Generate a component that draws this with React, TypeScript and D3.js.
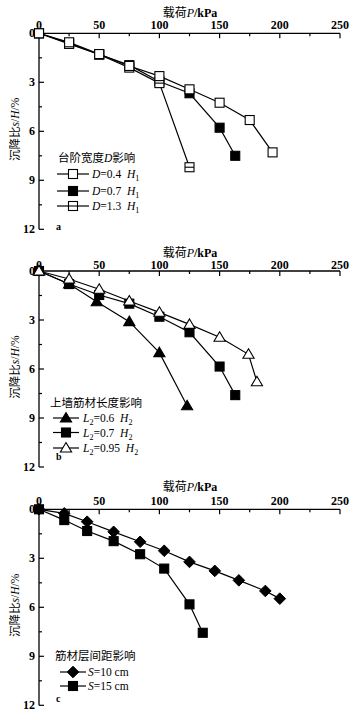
import React from "react";
import * as d3 from "d3";

// ---------- data ----------
const xTicks = [0, 50, 100, 150, 200, 250];
const xMinor = [25, 75, 125, 175, 225];
const yTicks = [0, 3, 6, 9, 12];
const yMinor = [1.5, 4.5, 7.5, 10.5];

// panel a
const loadA04 = [0, 25, 50, 75, 100, 125, 150, 175, 194];
const settleA04 = [0, 0.55, 1.27, 2.0, 2.62, 3.43, 4.25, 5.31, 7.29];
const loadA07 = [0, 25, 50, 75, 100, 125, 150, 163];
const settleA07 = [0, 0.6, 1.3, 1.95, 2.95, 3.67, 5.78, 7.5];
const loadA13 = [0, 25, 50, 75, 100, 125];
const settleA13 = [0, 0.65, 1.3, 2.1, 3.05, 8.2];

// panel b
const loadB06 = [0, 25, 48, 75, 100, 123];
const settleB06 = [0, 0.8, 1.88, 3.1, 5.0, 8.25];
const loadB07 = [0, 25, 50, 75, 100, 125, 150, 163];
const settleB07 = [0, 0.8, 1.47, 2.0, 2.8, 3.75, 5.85, 7.6];
const loadB095 = [0, 25, 50, 75, 100, 125, 150, 174, 181];
const settleB095 = [0, 0.49, 1.12, 1.84, 2.53, 3.27, 4.06, 5.1, 6.78];

// panel c
const loadC10 = [0, 21, 40, 62, 84, 104, 125, 146, 166, 188, 200];
const settleC10 = [0, 0.25, 0.76, 1.38, 1.99, 2.54, 3.22, 3.77, 4.35, 5.0, 5.47];
const loadC15 = [0, 21, 40, 62, 84, 104, 125, 136];
const settleC15 = [0, 0.66, 1.33, 1.95, 2.75, 3.63, 5.82, 7.56];

const titleA = "台阶宽度D影响";
const titleB = "上墙筋材长度影响";
const titleC = "筋材层间距影响";

type Seg = { t: string; i?: boolean; sub?: boolean };
type Series = { x: number[]; y: number[]; marker: string; label: Seg[] };

const panelA: Series[] = [
  { x: loadA07, y: settleA07, marker: "sqFill", label: [{ t: "D", i: true }, { t: "=0.7  " }, { t: "H", i: true }, { t: "1", sub: true }] },
  { x: loadA13, y: settleA13, marker: "sqHalf", label: [{ t: "D", i: true }, { t: "=1.3  " }, { t: "H", i: true }, { t: "1", sub: true }] },
  { x: loadA04, y: settleA04, marker: "sqOpen", label: [{ t: "D", i: true }, { t: "=0.4  " }, { t: "H", i: true }, { t: "1", sub: true }] },
];
const legendOrderA = [2, 0, 1];

const panelB: Series[] = [
  { x: loadB06, y: settleB06, marker: "triFill", label: [{ t: "L", i: true }, { t: "2", sub: true }, { t: "=0.6  " }, { t: "H", i: true }, { t: "2", sub: true }] },
  { x: loadB07, y: settleB07, marker: "sqFill", label: [{ t: "L", i: true }, { t: "2", sub: true }, { t: "=0.7  " }, { t: "H", i: true }, { t: "2", sub: true }] },
  { x: loadB095, y: settleB095, marker: "triOpen", label: [{ t: "L", i: true }, { t: "2", sub: true }, { t: "=0.95  " }, { t: "H", i: true }, { t: "2", sub: true }] },
];
const legendOrderB = [0, 1, 2];

const panelC: Series[] = [
  { x: loadC15, y: settleC15, marker: "sqFill", label: [{ t: "S", i: true }, { t: "=15 cm" }] },
  { x: loadC10, y: settleC10, marker: "diamond", label: [{ t: "S", i: true }, { t: "=10 cm" }] },
];
const legendOrderC = [1, 0];

const SERIF = "'Liberation Serif', 'DejaVu Serif', serif";
const CJK = "'Noto Sans CJK SC', sans-serif";

function Marker({ type, cx, cy }: { type: string; cx: number; cy: number }) {
  const s = 9;
  const h = s / 2;
  if (type === "sqOpen" || type === "sqFill" || type === "sqHalf") {
    return (
      <g>
        <rect x={cx - h} y={cy - h} width={s} height={s} fill={type === "sqFill" ? "#000" : "#fff"} stroke="#000" strokeWidth={1.1} />
        {type === "sqHalf" && <line x1={cx - h} x2={cx + h} y1={cy} y2={cy} stroke="#000" strokeWidth={1.1} />}
      </g>
    );
  }
  if (type === "triFill" || type === "triOpen") {
    const w = 5.6;
    const pts = `${cx},${cy - 5.5} ${cx + w},${cy + 4} ${cx - w},${cy + 4}`;
    return <polygon points={pts} fill={type === "triFill" ? "#000" : "#fff"} stroke="#000" strokeWidth={1.1} />;
  }
  const d = 5.8;
  const pts = `${cx},${cy - d} ${cx + d},${cy} ${cx},${cy + d} ${cx - d},${cy}`;
  return <polygon points={pts} fill="#000" stroke="#000" strokeWidth={1} />;
}

function SegText({ segs, x, y, size }: { segs: Seg[]; x: number; y: number; size: number }) {
  const out: any[] = [];
  let subbed = false;
  segs.forEach((s, k) => {
    if (s.sub) {
      out.push(<tspan key={k} fontSize={size * 0.7} dy={3}>{s.t}</tspan>);
      subbed = true;
    } else {
      out.push(
        <tspan key={k} fontStyle={s.i ? "italic" : "normal"} dy={subbed ? -3 : 0}>{s.t}</tspan>
      );
      subbed = false;
    }
  });
  return (
    <text x={x} y={y} fontFamily={SERIF} fontSize={size} fill="#000" style={{ whiteSpace: "pre" }}>{out}</text>
  );
}

function Panel({ y0, series, order, title, legendX, legendTitleY, rowY, lineX1, lineX2, textX, letter, letterY, titleDy, tickDy }: any) {
  const x = d3.scaleLinear().domain([0, 250]).range([39, 340]);
  const y = d3.scaleLinear().domain([0, 12]).range([y0, y0 + 196]);
  const line = d3.line<number>();
  return (
    <g>
      {/* axis title */}
      <text x={190} y={y0 + titleDy} textAnchor="middle" fontSize={12} fill="#000">
        <tspan fontFamily={CJK}>载荷</tspan>
        <tspan fontFamily={SERIF} fontStyle="italic">P</tspan>
        <tspan fontFamily={SERIF} fontWeight="bold">/kPa</tspan>
      </text>
      {/* x axis */}
      <line x1={x(0)} x2={x(250)} y1={y0} y2={y0} stroke="#000" strokeWidth={1.3} />
      {xTicks.map((t) => (
        <g key={"xt" + t}>
          <line x1={x(t)} x2={x(t)} y1={y0} y2={y0 + 5} stroke="#000" strokeWidth={1.2} />
          <text x={x(t)} y={y0 + tickDy} textAnchor="middle" fontFamily={SERIF} fontWeight="bold" fontSize={12}>{t}</text>
        </g>
      ))}
      {xMinor.map((t) => (
        <line key={"xm" + t} x1={x(t)} x2={x(t)} y1={y0} y2={y0 + 3} stroke="#000" strokeWidth={1.2} />
      ))}
      {/* y axis */}
      <line x1={39} x2={39} y1={y(0)} y2={y(12)} stroke="#000" strokeWidth={1.3} />
      {yTicks.map((t) => (
        <g key={"yt" + t}>
          <line x1={39} x2={44} y1={y(t)} y2={y(t)} stroke="#000" strokeWidth={1.2} />
          <text x={35} y={y(t) + 4} textAnchor="end" fontFamily={SERIF} fontWeight="bold" fontSize={12}>{t}</text>
        </g>
      ))}
      {yMinor.map((t) => (
        <line key={"ym" + t} x1={39} x2={42} y1={y(t)} y2={y(t)} stroke="#000" strokeWidth={1.2} />
      ))}
      {/* y title */}
      <text transform={`translate(19,${y0 + 96}) rotate(-90)`} textAnchor="middle" fontSize={11.5} fill="#000">
        <tspan fontFamily={CJK}>沉降比</tspan>
        <tspan fontFamily={SERIF} fontStyle="italic">s</tspan>
        <tspan fontFamily={SERIF}>/</tspan>
        <tspan fontFamily={SERIF} fontStyle="italic">H</tspan>
        <tspan fontFamily={SERIF}>/%</tspan>
      </text>
      {/* lines */}
      {series.map((s: Series, k: number) => (
        <path key={"l" + k} d={line(s.x.map((v, i) => [x(v), y(s.y[i])]) as any) || ""} fill="none" stroke="#000" strokeWidth={1.2} />
      ))}
      {series.map((s: Series, k: number) => (
        <g key={"m" + k}>
          {s.x.map((v, i) => (
            <Marker key={i} type={s.marker} cx={x(v)} cy={y(s.y[i])} />
          ))}
        </g>
      ))}
      {/* legend */}
      <text x={legendX} y={legendTitleY} fontFamily={CJK} fontSize={11.5} fill="#000">
        {title.split(/(D)/).map((p: string, i: number) =>
          p === "D" ? <tspan key={i} fontFamily={SERIF} fontStyle="italic">D</tspan> : <tspan key={i}>{p}</tspan>
        )}
      </text>
      {order.map((si: number, r: number) => {
        const s = series[si];
        const cy = rowY[r];
        return (
          <g key={"lg" + r}>
            <line x1={lineX1} x2={lineX2} y1={cy} y2={cy} stroke="#000" strokeWidth={1.2} />
            <Marker type={s.marker} cx={(lineX1 + lineX2) / 2} cy={cy} />
            <SegText segs={s.label} x={textX} y={cy + 4} size={11.5} />
          </g>
        );
      })}
      <text x={56} y={letterY} fontFamily={SERIF} fontWeight="bold" fontSize={10}>{letter}</text>
    </g>
  );
}

export default function App() {
  return (
    <svg width={359} height={715} style={{ position: "absolute", left: 0, top: 0, background: "#fff" }}>
      <rect width={359} height={715} fill="#fff" />
      <Panel y0={33.3} series={panelA} order={legendOrderA} title={titleA} legendX={58} legendTitleY={162}
        rowY={[174, 191, 206]} lineX1={57} lineX2={89} textX={92} letter="a" letterY={230} titleDy={-16} tickDy={-4} />
      <Panel y0={271} series={panelB} order={legendOrderB} title={titleB} legendX={50} legendTitleY={407}
        rowY={[418, 432.5, 448]} lineX1={53} lineX2={79} textX={83} letter="b" letterY={460} titleDy={-14} tickDy={-2} />
      <Panel y0={509.3} series={panelC} order={legendOrderC} title={titleC} legendX={55} legendTitleY={660}
        rowY={[672, 686]} lineX1={60} lineX2={86} textX={88} letter="c" letterY={702} titleDy={-18} tickDy={-4} />
    </svg>
  );
}
